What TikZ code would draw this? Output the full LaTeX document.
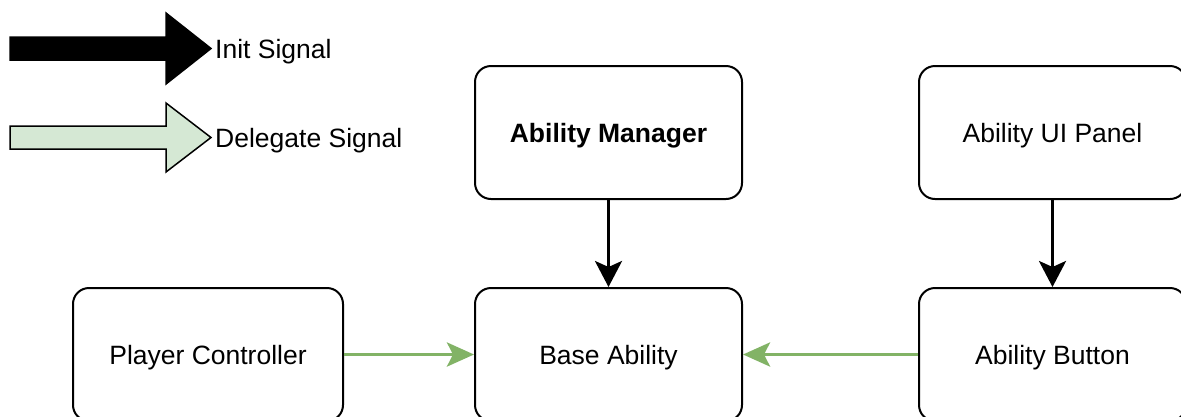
\documentclass[tikz,border=0pt]{standalone}
\usepackage{fontspec}
\setmainfont{Liberation Sans}
\usetikzlibrary{arrows.meta}
\definecolor{delegate}{HTML}{82B366}
\definecolor{delegatefill}{HTML}{D5E8D4}
\begin{document}
\begin{tikzpicture}[x=1pt,y=-1pt,
  block/.style={draw=black, line width=2pt, rounded corners=16pt, fill=white,
    minimum width=267pt, minimum height=133pt, inner sep=0pt,
    text height=19pt, text depth=0pt,
    font=\fontsize{26.5}{30}\selectfont},
  legendtext/.style={anchor=west, inner sep=0pt, text height=19pt, text depth=0pt,
    font=\fontsize{26.5}{30}\selectfont},
  initsig/.style={draw=black, line width=3.2pt,
    -{Stealth[length=26pt, width=27pt, inset=6pt]}},
  delegsig/.style={draw=delegate, line width=3.6pt,
    -{Stealth[length=27pt, width=24pt, inset=6pt]}},
  legendshape/.style={line width=1.5pt, draw=black, line join=miter}]
\clip (0,0) rectangle (1181,416);
\fill[white] (0,0) rectangle (1181,416);

% legend
\filldraw[legendshape, fill=black]
  (10,37) -- (166,37) -- (166,13) -- (211,48.5) -- (166,84) -- (166,60) -- (10,60) -- cycle;
\node[legendtext] (initlbl) at (215,48.5) {Init Signal};
\filldraw[legendshape, fill=delegatefill]
  (10,126) -- (166,126) -- (166,103) -- (211,137.5) -- (166,172) -- (166,149) -- (10,149) -- cycle;
\node[legendtext] (deleglbl) at (215,137.5) {Delegate Signal};

% components
\node[block, font=\fontsize{26.5}{30}\selectfont\bfseries] (manager) at (608.5,132.5) {Ability Manager};
\node[block] (base) at (608.5,354.5) {Base Ability};
\node[block] (panel) at (1052.5,132.5) {Ability UI Panel};
\node[block] (button) at (1052.5,354.5) {Ability Button};
\node[block, minimum width=270pt] (player) at (208,354.5) {Player Controller};

% signals
\draw[initsig] (manager.south) -- (base.north);
\draw[initsig] (panel.south) -- (button.north);
\draw[delegsig] (player.east) -- (base.west);
\draw[delegsig] (button.west) -- (base.east);
\end{tikzpicture}
\end{document}
